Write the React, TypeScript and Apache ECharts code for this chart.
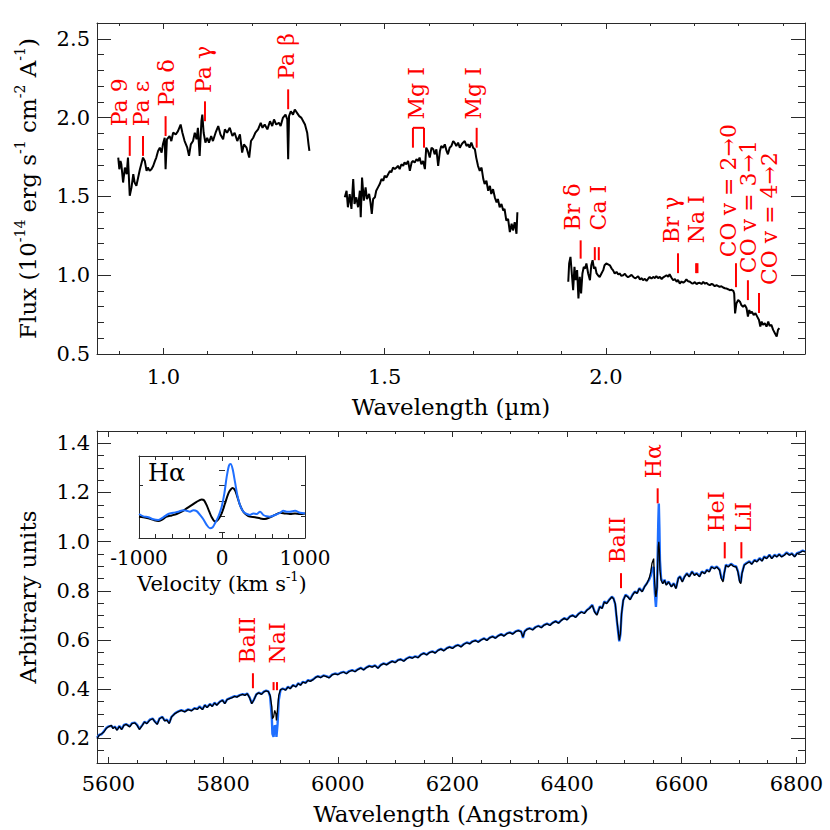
import React, { useEffect, useRef } from 'react';
import * as echarts from 'echarts';

// ---------- NIR spectrum (top panel), [wavelength (µm), flux] ----------
const nirSegment1: [number, number][] = [
  [0.898, 1.746], [0.9005, 1.672], [0.903, 1.725], [0.905, 1.704], [0.909, 1.588], [0.913, 1.683], [0.917, 1.641], [0.920, 1.746], [0.924, 1.504], [0.928, 1.557],
  [0.932, 1.641], [0.935, 1.588], [0.939, 1.567], [0.943, 1.620], [0.947, 1.672], [0.950, 1.704], [0.954, 1.746], [0.958, 1.725], [0.962, 1.662], [0.965, 1.683],
  [0.969, 1.662], [0.973, 1.672], [0.977, 1.693], [0.981, 1.725], [0.984, 1.746], [0.988, 1.788], [0.992, 1.809], [0.996, 1.778], [0.999, 1.830], [1.003, 1.872],
  [1.005, 1.672], [1.008, 1.862], [1.014, 1.883], [1.018, 1.851], [1.022, 1.904], [1.028, 1.893], [1.033, 1.914], [1.039, 1.956], [1.043, 1.904], [1.048, 1.851],
  [1.054, 1.809], [1.058, 1.757], [1.062, 1.830], [1.067, 1.851], [1.071, 1.904], [1.075, 1.862], [1.078, 1.935], [1.082, 1.757], [1.086, 1.977], [1.088, 2.019],
  [1.091, 1.904], [1.095, 1.841], [1.099, 1.872], [1.103, 1.841], [1.108, 1.883], [1.112, 1.851], [1.118, 1.904], [1.124, 1.946], [1.129, 1.893], [1.135, 1.862],
  [1.139, 1.925], [1.144, 1.904], [1.150, 1.935], [1.156, 1.883], [1.161, 1.904], [1.167, 1.851], [1.173, 1.893], [1.178, 1.778], [1.182, 1.830], [1.188, 1.809],
  [1.194, 1.746], [1.198, 1.851], [1.203, 1.872], [1.208, 1.904], [1.214, 1.925], [1.220, 1.967], [1.224, 1.935], [1.229, 1.956], [1.235, 1.925], [1.241, 1.977],
  [1.246, 1.946], [1.250, 1.988], [1.255, 1.956], [1.261, 1.967], [1.265, 1.946], [1.270, 1.998], [1.276, 2.019], [1.280, 1.988], [1.282, 1.736], [1.284, 2.009],
  [1.288, 2.040], [1.293, 2.019], [1.297, 2.051], [1.302, 2.030], [1.307, 2.009], [1.312, 1.998], [1.316, 1.977], [1.320, 1.956], [1.325, 1.904], [1.328, 1.830],
  [1.330, 1.788],
];
const nirSegment2: [number, number][] = [
  [1.410, 1.494], [1.414, 1.536], [1.417, 1.431], [1.421, 1.515], [1.425, 1.420], [1.429, 1.610], [1.432, 1.452], [1.436, 1.494], [1.440, 1.431], [1.444, 1.536],
  [1.446, 1.368], [1.449, 1.620], [1.453, 1.473], [1.457, 1.557], [1.460, 1.483], [1.465, 1.515], [1.468, 1.462], [1.471, 1.389], [1.474, 1.483], [1.478, 1.494],
  [1.481, 1.536], [1.485, 1.557], [1.489, 1.578], [1.493, 1.610], [1.497, 1.599], [1.500, 1.631], [1.504, 1.620], [1.508, 1.641], [1.512, 1.662], [1.515, 1.652],
  [1.519, 1.683], [1.523, 1.673], [1.527, 1.683], [1.530, 1.694], [1.534, 1.673], [1.538, 1.704], [1.542, 1.694], [1.545, 1.715], [1.549, 1.704], [1.553, 1.725],
  [1.557, 1.662], [1.561, 1.715], [1.564, 1.725], [1.568, 1.715], [1.572, 1.736], [1.576, 1.725], [1.579, 1.746], [1.583, 1.704], [1.587, 1.725], [1.591, 1.673],
  [1.594, 1.809], [1.598, 1.788], [1.602, 1.746], [1.606, 1.809], [1.610, 1.799], [1.613, 1.767], [1.617, 1.799], [1.621, 1.694], [1.625, 1.788], [1.628, 1.820],
  [1.632, 1.809], [1.636, 1.830], [1.640, 1.788], [1.643, 1.767], [1.647, 1.809], [1.651, 1.820], [1.655, 1.851], [1.658, 1.841], [1.662, 1.820], [1.666, 1.841],
  [1.670, 1.809], [1.674, 1.830], [1.677, 1.841], [1.681, 1.851], [1.685, 1.820], [1.689, 1.830], [1.692, 1.809], [1.696, 1.841], [1.700, 1.809], [1.704, 1.799],
  [1.707, 1.746], [1.711, 1.694], [1.715, 1.662], [1.719, 1.683], [1.723, 1.610], [1.726, 1.578], [1.730, 1.599], [1.734, 1.536], [1.738, 1.567], [1.741, 1.515],
  [1.745, 1.546], [1.749, 1.494], [1.753, 1.462], [1.756, 1.483], [1.760, 1.431], [1.764, 1.452], [1.768, 1.410], [1.771, 1.420], [1.775, 1.347], [1.779, 1.357],
  [1.783, 1.273], [1.787, 1.326], [1.790, 1.284], [1.794, 1.336], [1.798, 1.263], [1.800, 1.399],
];
const nirSegment3: [number, number][] = [
  [1.915, 0.958], [1.917, 1.074], [1.920, 1.116], [1.923, 1.011], [1.926, 0.905], [1.929, 1.053], [1.932, 0.968], [1.935, 1.032], [1.938, 0.853], [1.941, 0.989],
  [1.944, 0.884], [1.947, 1.011], [1.950, 1.053], [1.953, 1.042], [1.956, 1.074], [1.960, 1.011], [1.964, 0.968], [1.967, 1.063], [1.970, 1.095], [1.973, 1.042],
  [1.976, 1.053], [1.979, 1.011], [1.982, 1.000], [1.986, 0.989], [1.990, 1.011], [1.994, 1.032], [1.997, 1.063], [2.001, 1.074], [2.005, 1.069], [2.009, 1.063],
  [2.013, 1.042], [2.016, 1.032], [2.020, 1.011], [2.024, 1.021], [2.028, 1.004], [2.031, 1.011], [2.035, 0.996], [2.039, 1.000], [2.043, 1.009], [2.046, 0.996],
  [2.050, 0.987], [2.054, 0.994], [2.058, 1.002], [2.062, 0.989], [2.066, 0.980], [2.069, 0.985], [2.073, 0.993], [2.077, 0.973], [2.081, 0.981], [2.084, 0.968],
  [2.088, 0.977], [2.092, 0.964], [2.096, 0.979], [2.099, 0.989], [2.103, 0.978], [2.107, 0.989], [2.111, 0.982], [2.114, 0.994], [2.118, 0.981], [2.122, 0.989],
  [2.126, 0.976], [2.129, 0.985], [2.133, 0.992], [2.137, 1.000], [2.141, 0.990], [2.144, 1.006], [2.148, 0.985], [2.152, 0.968], [2.156, 0.975], [2.160, 0.958],
  [2.163, 0.970], [2.167, 0.947], [2.171, 0.960], [2.175, 0.952], [2.179, 0.962], [2.182, 0.973], [2.186, 0.961], [2.190, 0.958], [2.194, 0.949], [2.197, 0.947],
  [2.201, 0.956], [2.205, 0.943], [2.209, 0.951], [2.212, 0.952], [2.216, 0.944], [2.220, 0.958], [2.224, 0.946], [2.227, 0.952], [2.231, 0.942], [2.235, 0.937],
  [2.239, 0.945], [2.242, 0.941], [2.246, 0.930], [2.250, 0.937], [2.254, 0.931], [2.257, 0.926], [2.261, 0.930], [2.265, 0.922], [2.269, 0.917], [2.272, 0.916],
  [2.276, 0.911], [2.280, 0.905], [2.284, 0.907], [2.288, 0.901], [2.290, 0.884], [2.292, 0.758], [2.295, 0.821], [2.299, 0.842], [2.303, 0.832], [2.306, 0.811],
  [2.310, 0.800], [2.314, 0.811], [2.318, 0.790], [2.321, 0.737], [2.324, 0.779], [2.327, 0.758], [2.330, 0.769], [2.334, 0.748], [2.338, 0.758], [2.342, 0.737],
  [2.346, 0.716], [2.349, 0.674], [2.352, 0.706], [2.355, 0.685], [2.359, 0.695], [2.363, 0.674], [2.367, 0.706], [2.370, 0.678], [2.374, 0.685], [2.378, 0.653],
  [2.382, 0.632], [2.386, 0.611], [2.389, 0.653], [2.392, 0.664],
];

// NIR line identifications
const nirLineNames = ['Pa 9', 'Pa ε', 'Pa δ', 'Pa γ', 'Pa β', 'Mg I', 'Mg I', 'Br δ', 'Ca I', 'Br γ', 'Na I', 'CO v = 2→0', 'CO v = 3→1', 'CO v = 4→2'];
const nirLineWave = [0.924, 0.954, 1.005, 1.094, 1.282, 1.564, 1.708, 1.943, 1.975, 2.163, 2.204, 2.294, 2.321, 2.346];
const nirLineWave2: (number | null)[] = [null, null, null, null, null, 1.589, null, null, 1.984, null, 2.207, null, null, null];
const nirLineJoined = [false, false, false, false, false, true, false, false, false, false, false, false, false, false];
const nirTickLow = [1.757, 1.757, 1.883, 1.977, 2.053, 1.809, 1.809, 1.105, 1.095, 1.013, 1.013, 0.924, 0.842, 0.760];
const nirTickHigh = [1.883, 1.883, 2.009, 2.103, 2.179, 1.935, 1.935, 1.221, 1.178, 1.139, 1.076, 1.076, 0.968, 0.887];
const nirTextWave = [0.900, 0.951, 1.006, 1.090, 1.278, 1.573, 1.701, 1.925, 1.984, 2.149, 2.205, 2.278, 2.323, 2.370];
const nirTextLow = [1.945, 1.945, 2.071, 2.156, 2.240, 1.988, 1.988, 1.284, 1.284, 1.202, 1.202, 1.114, 1.013, 0.937];

// ---------- Optical spectrum (bottom panel) ----------
const optLambda = [
  5580, 5584, 5588, 5592, 5596, 5600, 5605, 5608, 5611, 5615,
  5619, 5623, 5627, 5631, 5637, 5641, 5646, 5650, 5654, 5659,
  5663, 5667, 5672, 5677, 5681, 5685, 5689, 5694, 5698, 5702,
  5706, 5710, 5716, 5721, 5727, 5733, 5739, 5745, 5750, 5755,
  5759, 5764, 5768, 5772, 5777, 5781, 5785, 5789, 5794, 5799,
  5803, 5807, 5811, 5816, 5820, 5824, 5829, 5834, 5838, 5842,
  5846, 5850, 5854, 5858, 5862, 5867, 5871, 5875, 5879, 5882,
  5885, 5886, 5888, 5890, 5892, 5893, 5895, 5897, 5900, 5904,
  5909, 5913, 5917, 5922, 5927, 5931, 5935, 5939, 5944, 5948,
  5952, 5957, 5961, 5965,
  5970, 5975, 5980, 5985, 5990, 5995, 6000, 6005, 6010, 6015,
  6020, 6025, 6030, 6035, 6040, 6045, 6050, 6055, 6060, 6065,
  6070, 6075, 6080, 6085, 6090, 6095, 6100, 6105, 6110, 6115,
  6120, 6125, 6130, 6135, 6140, 6145, 6150, 6155, 6160, 6165,
  6170, 6175, 6180, 6185, 6190, 6195, 6200, 6205, 6210, 6215,
  6220, 6225, 6230, 6235, 6240, 6245, 6250, 6255, 6260, 6265,
  6270, 6275, 6280, 6285, 6290, 6295, 6300, 6305, 6310, 6315,
  6320, 6323, 6326, 6330, 6335, 6340, 6345, 6350, 6355, 6360,
  6365, 6370, 6375, 6380, 6385, 6390, 6395, 6400, 6405, 6410,
  6415, 6420, 6425, 6430, 6435,
  6439, 6444, 6448, 6452, 6457, 6461, 6465, 6469, 6474, 6478,
  6481, 6484, 6487, 6490, 6491, 6493, 6495, 6498, 6502, 6506,
  6510, 6514, 6518, 6522, 6526, 6531, 6535, 6539, 6543, 6546,
  6548, 6551, 6552, 6554, 6555, 6557, 6558, 6559, 6560, 6561,
  6562, 6564, 6567, 6570, 6573, 6577, 6582, 6586, 6590, 6594,
  6597, 6601, 6605, 6609, 6613, 6618, 6622, 6626, 6631, 6635,
  6640, 6644, 6648, 6652, 6657, 6661, 6666, 6669, 6672, 6674,
  6677, 6681, 6686, 6690, 6695, 6698, 6701, 6703, 6705, 6709,
  6713, 6718, 6722, 6727, 6731, 6736, 6740, 6744, 6748, 6753,
  6757, 6762, 6766, 6770, 6774, 6779, 6783, 6788, 6792, 6797,
  6801, 6805, 6811, 6815,
];
const optFluxBlack = [
  0.199, 0.213, 0.219, 0.226, 0.240, 0.247, 0.253, 0.240, 0.247, 0.233,
  0.249, 0.236, 0.253, 0.257, 0.247, 0.260, 0.263, 0.253, 0.236, 0.253,
  0.267, 0.260, 0.274, 0.280, 0.267, 0.257, 0.280, 0.287, 0.271, 0.274,
  0.260, 0.287, 0.301, 0.308, 0.314, 0.308, 0.317, 0.312, 0.322, 0.318,
  0.328, 0.317, 0.335, 0.325, 0.339, 0.330, 0.344, 0.335, 0.348, 0.355,
  0.341, 0.358, 0.362, 0.366, 0.371, 0.368, 0.375, 0.379, 0.375, 0.382,
  0.366, 0.341, 0.358, 0.379, 0.385, 0.379, 0.389, 0.393, 0.390, 0.375,
  0.328, 0.280, 0.287, 0.314, 0.300, 0.273, 0.321, 0.375, 0.398, 0.402,
  0.396, 0.409, 0.402, 0.416, 0.409, 0.423, 0.416, 0.429, 0.425, 0.436,
  0.432, 0.439, 0.447, 0.452,
  0.447, 0.455, 0.451, 0.446, 0.458, 0.462, 0.459, 0.466, 0.470, 0.463,
  0.472, 0.477, 0.471, 0.480, 0.486, 0.478, 0.488, 0.494, 0.490, 0.496,
  0.485, 0.498, 0.504, 0.499, 0.507, 0.513, 0.508, 0.518, 0.521, 0.514,
  0.524, 0.530, 0.526, 0.533, 0.528, 0.540, 0.546, 0.539, 0.549, 0.553,
  0.547, 0.558, 0.563, 0.556, 0.566, 0.571, 0.566, 0.575, 0.579, 0.572,
  0.583, 0.589, 0.584, 0.594, 0.598, 0.591, 0.600, 0.606, 0.598, 0.609,
  0.614, 0.607, 0.617, 0.623, 0.616, 0.626, 0.630, 0.624, 0.634, 0.638,
  0.633, 0.612, 0.635, 0.643, 0.647, 0.641, 0.652, 0.657, 0.650, 0.661,
  0.666, 0.659, 0.670, 0.676, 0.668, 0.680, 0.688, 0.682, 0.695, 0.700,
  0.692, 0.706, 0.714, 0.708, 0.722,
  0.728, 0.741, 0.714, 0.701, 0.735, 0.728, 0.755, 0.748, 0.764, 0.775,
  0.768, 0.748, 0.680, 0.619, 0.599, 0.626, 0.707, 0.762, 0.782, 0.775,
  0.764, 0.782, 0.796, 0.789, 0.809, 0.796, 0.816, 0.829, 0.850, 0.877,
  0.911, 0.931, 0.870, 0.789, 0.775, 0.816, 0.897, 0.978, 0.999, 0.965,
  0.884, 0.843, 0.829, 0.843, 0.823, 0.836, 0.816, 0.829, 0.809, 0.850,
  0.857, 0.836, 0.857, 0.870, 0.857, 0.877, 0.863, 0.870, 0.857, 0.877,
  0.870, 0.884, 0.877, 0.897, 0.890, 0.897, 0.884, 0.850, 0.836, 0.870,
  0.904, 0.897, 0.908, 0.900, 0.897, 0.877, 0.836, 0.829, 0.870, 0.904,
  0.911, 0.918, 0.908, 0.924, 0.918, 0.931, 0.921, 0.938, 0.931, 0.945,
  0.931, 0.945, 0.938, 0.948, 0.938, 0.945, 0.954, 0.945, 0.951, 0.938,
  0.951, 0.954, 0.962, 0.958,
];
const optFluxBlue = [
  0.203, 0.215, 0.217, 0.229, 0.242, 0.249, 0.251, 0.243, 0.248, 0.236,
  0.251, 0.238, 0.255, 0.258, 0.249, 0.262, 0.264, 0.255, 0.239, 0.254,
  0.268, 0.262, 0.276, 0.281, 0.269, 0.259, 0.281, 0.288, 0.273, 0.276,
  0.263, 0.288, 0.302, 0.309, 0.315, 0.310, 0.318, 0.314, 0.323, 0.320,
  0.330, 0.319, 0.336, 0.327, 0.340, 0.332, 0.345, 0.337, 0.349, 0.356,
  0.343, 0.359, 0.363, 0.368, 0.372, 0.370, 0.376, 0.380, 0.377, 0.383,
  0.368, 0.343, 0.359, 0.380, 0.386, 0.381, 0.390, 0.394, 0.391, 0.370,
  0.280, 0.219, 0.206, 0.253, 0.246, 0.206, 0.260, 0.355, 0.396, 0.403,
  0.398, 0.410, 0.404, 0.417, 0.411, 0.424, 0.418, 0.430, 0.427, 0.437,
  0.434, 0.440, 0.448, 0.453,
  0.449, 0.456, 0.453, 0.448, 0.459, 0.464, 0.461, 0.467, 0.471, 0.465,
  0.474, 0.478, 0.473, 0.481, 0.487, 0.480, 0.489, 0.495, 0.492, 0.497,
  0.487, 0.499, 0.505, 0.501, 0.508, 0.514, 0.510, 0.519, 0.522, 0.516,
  0.525, 0.531, 0.528, 0.534, 0.530, 0.541, 0.547, 0.541, 0.550, 0.554,
  0.549, 0.559, 0.564, 0.558, 0.567, 0.572, 0.568, 0.576, 0.580, 0.574,
  0.584, 0.590, 0.586, 0.595, 0.599, 0.593, 0.601, 0.607, 0.600, 0.610,
  0.615, 0.609, 0.618, 0.624, 0.618, 0.627, 0.631, 0.626, 0.635, 0.639,
  0.635, 0.608, 0.636, 0.644, 0.648, 0.643, 0.653, 0.658, 0.652, 0.662,
  0.667, 0.661, 0.671, 0.677, 0.670, 0.681, 0.689, 0.684, 0.696, 0.701,
  0.694, 0.707, 0.715, 0.710, 0.723,
  0.731, 0.743, 0.716, 0.704, 0.737, 0.730, 0.757, 0.750, 0.766, 0.776,
  0.770, 0.745, 0.675, 0.612, 0.595, 0.622, 0.705, 0.763, 0.784, 0.777,
  0.766, 0.784, 0.797, 0.791, 0.811, 0.798, 0.817, 0.830, 0.845, 0.862,
  0.890, 0.897, 0.829, 0.762, 0.735, 0.816, 0.951, 1.073, 1.155, 1.060,
  0.924, 0.850, 0.832, 0.845, 0.826, 0.838, 0.818, 0.831, 0.812, 0.852,
  0.859, 0.839, 0.859, 0.872, 0.859, 0.879, 0.866, 0.872, 0.860, 0.879,
  0.872, 0.886, 0.880, 0.899, 0.892, 0.899, 0.887, 0.855, 0.842, 0.872,
  0.906, 0.900, 0.910, 0.903, 0.899, 0.880, 0.842, 0.835, 0.872, 0.906,
  0.913, 0.920, 0.910, 0.926, 0.920, 0.933, 0.923, 0.940, 0.933, 0.947,
  0.933, 0.947, 0.940, 0.950, 0.940, 0.947, 0.956, 0.947, 0.953, 0.940,
  0.953, 0.956, 0.964, 0.960,
];

// optical line identifications
const optLineNames = ['BaII', 'NaI', 'BaII', 'Hα', 'HeI', 'LiI'];
const optLineWave = [5852, 5888, 6494, 6558, 6675, 6704];
const optLineWave2: (number | null)[] = [null, 5894, null, null, null, null];
const optLineJoined = [false, false, false, false, false, false];
const optTickLow = [0.404, 0.396, 0.811, 1.156, 0.932, 0.932];
const optTickHigh = [0.465, 0.429, 0.872, 1.217, 0.998, 0.998];
const optTextWave = [5843, 5894, 6488, 6551, 6660, 6708];
const optTextLow = [0.505, 0.505, 0.912, 1.258, 1.038, 1.038];

// ---------- H-alpha inset, [velocity (km/s), normalised flux] ----------
const halphaBlack: [number, number][] = [
  [-1000, 0.998], [-948, 0.994], [-888, 0.987], [-827, 0.977], [-767, 0.970], [-727, 0.977], [-667, 0.998], [-606, 1.006], [-546, 1.015], [-486, 1.030],
  [-426, 1.051], [-365, 1.072], [-305, 1.094], [-245, 1.109], [-217, 1.104], [-185, 1.072], [-153, 1.030], [-124, 0.994], [-84, 0.966], [-44, 0.981],
  [-4, 1.019], [36, 1.083], [76, 1.147], [104, 1.172], [128, 1.183], [157, 1.168], [185, 1.126], [217, 1.072], [257, 1.030], [297, 1.009],
  [337, 0.998], [398, 0.994], [458, 0.987], [518, 0.983], [578, 0.994], [639, 1.009], [699, 1.023], [759, 1.019], [819, 1.015], [880, 1.019],
  [940, 1.015], [1000, 1.019],
];
const halphaBlue: [number, number][] = [
  [-1000, 1.015], [-948, 1.000], [-888, 0.994], [-827, 0.981], [-767, 0.977], [-707, 0.994], [-647, 1.015], [-586, 1.023], [-526, 1.030], [-466, 1.040],
  [-426, 1.036], [-386, 1.030], [-345, 1.040], [-305, 1.034], [-265, 1.009], [-225, 0.981], [-185, 0.945], [-145, 0.923], [-112, 0.930], [-84, 0.955],
  [-44, 0.998], [-4, 1.062], [28, 1.147], [56, 1.253], [84, 1.328], [104, 1.338], [128, 1.306], [157, 1.221], [185, 1.136], [217, 1.072],
  [257, 1.030], [297, 1.015], [337, 1.009], [378, 1.019], [418, 1.015], [458, 1.030], [498, 1.009], [538, 1.000], [578, 0.998], [639, 1.009],
  [699, 1.023], [739, 1.036], [779, 1.030], [819, 1.030], [880, 1.036], [940, 1.023], [1000, 1.019],
];

// ---------- tick values ----------
const nirWaveTicks = [1.0, 1.5, 2.0];
const nirFluxTicks = [0.5, 1.0, 1.5, 2.0, 2.5];
const optWaveTicks = [5600, 5800, 6000, 6200, 6400, 6600, 6800];
const optFluxTicks = [0.2, 0.4, 0.6, 0.8, 1.0, 1.2, 1.4];
const velTicks = [-1000, 0, 1000];

function steps(a: number, b: number, s: number) {
  const out: number[] = [];
  const n = Math.round((b - a) / s);
  for (let i = 0; i <= n; i++) out.push(Math.round((a + i * s) * 10000) / 10000);
  return out;
}

const FONT = '"DejaVu Serif", serif';
const AXIS = '#2a2a2a';
const RED = '#ff0000';

const richName = (size: number) => ({
  n: { fontFamily: FONT, fontSize: size, color: '#000', lineHeight: size + 6 },
  s: { fontFamily: FONT, fontSize: Math.round(size * 0.6), color: '#000', verticalAlign: 'top' as const },
});

function boxX(grid: number, min: number, max: number, majors: number[], minors: number[], majLen: number, minLen: number, labelOpts: any, nameOpts: any) {
  const base: any = { gridIndex: grid, type: 'value', min, max, splitLine: { show: false } };
  const line = { show: true, onZero: false, lineStyle: { color: AXIS, width: 1 } };
  const tickStyle = { color: AXIS, width: 1 };
  return [
    {
      ...base, position: 'bottom', axisLine: line,
      axisTick: { show: true, inside: true, length: majLen, customValues: majors, lineStyle: tickStyle },
      axisLabel: { show: true, customValues: majors, color: '#000', fontFamily: FONT, ...labelOpts },
      ...nameOpts,
    },
    { ...base, position: 'bottom', axisLine: { show: false }, axisTick: { show: true, inside: true, length: minLen, customValues: minors, lineStyle: tickStyle }, axisLabel: { show: false } },
    { ...base, position: 'top', axisLine: line, axisTick: { show: true, inside: true, length: majLen, customValues: majors, lineStyle: tickStyle }, axisLabel: { show: false } },
    { ...base, position: 'top', axisLine: { show: false }, axisTick: { show: true, inside: true, length: minLen, customValues: minors, lineStyle: tickStyle }, axisLabel: { show: false } },
  ];
}
function boxY(grid: number, min: number, max: number, majors: number[], minors: number[], majLen: number, minLen: number, labelOpts: any, nameOpts: any) {
  const base: any = { gridIndex: grid, type: 'value', min, max, splitLine: { show: false } };
  const line = { show: true, onZero: false, lineStyle: { color: AXIS, width: 1 } };
  const tickStyle = { color: AXIS, width: 1 };
  return [
    {
      ...base, position: 'left', axisLine: line,
      axisTick: { show: true, inside: true, length: majLen, customValues: majors, lineStyle: tickStyle },
      axisLabel: labelOpts ? { show: true, customValues: majors, color: '#000', fontFamily: FONT, ...labelOpts } : { show: false },
      ...nameOpts,
    },
    { ...base, position: 'left', axisLine: { show: false }, axisTick: { show: true, inside: true, length: minLen, customValues: minors, lineStyle: tickStyle }, axisLabel: { show: false } },
    { ...base, position: 'right', axisLine: line, axisTick: { show: true, inside: true, length: majLen, customValues: majors, lineStyle: tickStyle }, axisLabel: { show: false } },
    { ...base, position: 'right', axisLine: { show: false }, axisTick: { show: true, inside: true, length: minLen, customValues: minors, lineStyle: tickStyle }, axisLabel: { show: false } },
  ];
}

function lineIdSeries(axisIndex: number, names: string[], wave: number[], wave2: (number | null)[], joined: boolean[], low: number[], high: number[], textWave: number[], textLow: number[]) {
  return {
    type: 'custom',
    xAxisIndex: axisIndex,
    yAxisIndex: axisIndex,
    silent: true,
    clip: false,
    z: 10,
    data: wave.map((w, i) => [w, low[i]]),
    renderItem: (params: any, api: any) => {
      const i = params.dataIndex;
      const children: any[] = [];
      const a = api.coord([wave[i], low[i]]);
      const b = api.coord([wave[i], high[i]]);
      const stroke = { stroke: RED, lineWidth: 2 };
      children.push({ type: 'line', shape: { x1: a[0], y1: a[1], x2: b[0], y2: b[1] }, style: stroke });
      const w2 = wave2[i];
      if (w2 != null) {
        const c = api.coord([w2, low[i]]);
        const d = api.coord([w2, high[i]]);
        children.push({ type: 'line', shape: { x1: c[0], y1: c[1], x2: d[0], y2: d[1] }, style: stroke });
        if (joined[i]) children.push({ type: 'line', shape: { x1: b[0], y1: b[1], x2: d[0], y2: d[1] }, style: stroke });
      }
      const t = api.coord([textWave[i], textLow[i]]);
      children.push({
        type: 'text', x: t[0], y: t[1], rotation: Math.PI / 2,
        style: { text: names[i], fill: RED, font: `22px ${FONT}`, align: 'left', verticalAlign: 'middle', textAlign: 'left', textVerticalAlign: 'middle' },
      });
      return { type: 'group', children };
    },
  };
}

export default function App() {
  const ref = useRef<HTMLDivElement>(null);
  useEffect(() => {
    if (!ref.current) return;
    const chart = echarts.init(ref.current, null, { renderer: 'svg' });
    const nOpt = Math.min(optLambda.length, optFluxBlack.length, optFluxBlue.length);
    const blackData = [] as number[][];
    const blueData = [] as number[][];
    for (let i = 0; i < nOpt; i++) {
      blackData.push([optLambda[i], optFluxBlack[i]]);
      blueData.push([optLambda[i], optFluxBlue[i]]);
    }
    const nameStyleBig = { fontFamily: FONT, fontSize: 23, color: '#000', rich: richName(23) };
    const xAxes = [
      ...boxX(0, 0.85, 2.45, nirWaveTicks, steps(0.9, 2.4, 0.1), 6, 3,
        { fontSize: 21, margin: 12, formatter: (v: number) => v.toFixed(1) },
        { name: '{n|Wavelength (µm)}', nameLocation: 'middle', nameGap: 38, nameTextStyle: nameStyleBig }),
      ...boxX(1, 5580, 6815, optWaveTicks, steps(5600, 6800, 50), 6, 3,
        { fontSize: 21, margin: 10, formatter: (v: number) => String(v) },
        { name: '{n|Wavelength (Angstrom)}', nameLocation: 'middle', nameGap: 36, nameTextStyle: nameStyleBig }),
      ...boxX(2, -1000, 1000, velTicks, steps(-1000, 1000, 200), 5, 4,
        { fontSize: 20, margin: 10, formatter: (v: number) => String(v) },
        { name: '{n|Velocity (km s}{s|-1}{n|)}', nameLocation: 'middle', nameGap: 32, nameTextStyle: { fontFamily: FONT, fontSize: 21, color: '#000', rich: richName(21) } }),
    ];
    const yAxes = [
      ...boxY(0, 0.5, 2.6, nirFluxTicks, steps(0.5, 2.6, 0.1), 14, 7,
        { fontSize: 21, margin: 7, formatter: (v: number) => v.toFixed(1) },
        { name: '{n|Flux (10}{s|-14}{n| erg s}{s|-1}{n| cm}{s|-2}{n| A}{s|-1}{n|)}', nameLocation: 'middle', nameRotate: 90, nameGap: 55, nameTextStyle: nameStyleBig }),
      ...boxY(1, 0.1, 1.45, optFluxTicks, steps(0.1, 1.45, 0.05), 14, 7,
        { fontSize: 21, margin: 7, formatter: (v: number) => v.toFixed(1) },
        { name: '{n|Arbitrary units}', nameLocation: 'middle', nameRotate: 90, nameGap: 55, nameTextStyle: nameStyleBig }),
      ...boxY(2, 0.86, 1.39, [1.0, 1.2], steps(0.9, 1.3, 0.1), 4, 3, null, {}),
    ];
    const lineBase = { type: 'line', showSymbol: false, silent: true, animation: false };
    chart.setOption({
      animation: false,
      backgroundColor: '#ffffff',
      textStyle: { fontFamily: FONT },
      grid: [
        { left: 97, top: 23, width: 708, height: 331, outerBoundsMode: 'none' },
        { left: 97, top: 431, width: 708, height: 332, outerBoundsMode: 'none' },
        { left: 139, top: 456, width: 166, height: 82, outerBoundsMode: 'none', show: true, backgroundColor: '#ffffff', borderWidth: 0 },
      ],
      xAxis: xAxes,
      yAxis: yAxes,
      series: [
        { ...lineBase, name: 'NIR 1', xAxisIndex: 0, yAxisIndex: 0, data: nirSegment1, lineStyle: { color: '#000', width: 2 } },
        { ...lineBase, name: 'NIR 2', xAxisIndex: 0, yAxisIndex: 0, data: nirSegment2, lineStyle: { color: '#000', width: 2 } },
        { ...lineBase, name: 'NIR 3', xAxisIndex: 0, yAxisIndex: 0, data: nirSegment3, lineStyle: { color: '#000', width: 2 } },
        lineIdSeries(0, nirLineNames, nirLineWave, nirLineWave2, nirLineJoined, nirTickLow, nirTickHigh, nirTextWave, nirTextLow),
        { ...lineBase, name: 'optical blue', xAxisIndex: 4, yAxisIndex: 4, data: blueData, lineStyle: { color: '#1f6fff', width: 2.4 } },
        { ...lineBase, name: 'optical black', xAxisIndex: 4, yAxisIndex: 4, data: blackData, lineStyle: { color: '#000', width: 1.3 } },
        lineIdSeries(4, optLineNames, optLineWave, optLineWave2, optLineJoined, optTickLow, optTickHigh, optTextWave, optTextLow),
        { ...lineBase, name: 'Halpha black', xAxisIndex: 8, yAxisIndex: 8, data: halphaBlack, smooth: 0.3, lineStyle: { color: '#000', width: 2 } },
        { ...lineBase, name: 'Halpha blue', xAxisIndex: 8, yAxisIndex: 8, data: halphaBlue, smooth: 0.3, lineStyle: { color: '#1f6fff', width: 2 } },
      ],
      graphic: [
        { type: 'text', left: 148, top: 461, z: 20, style: { text: 'Hα', font: `24px ${FONT}`, fill: '#000' } },
      ],
    });
    return () => chart.dispose();
  }, []);
  return <div ref={ref} style={{ position: 'fixed', left: 0, top: 0, width: 830, height: 830, background: '#fff' }} />;
}
